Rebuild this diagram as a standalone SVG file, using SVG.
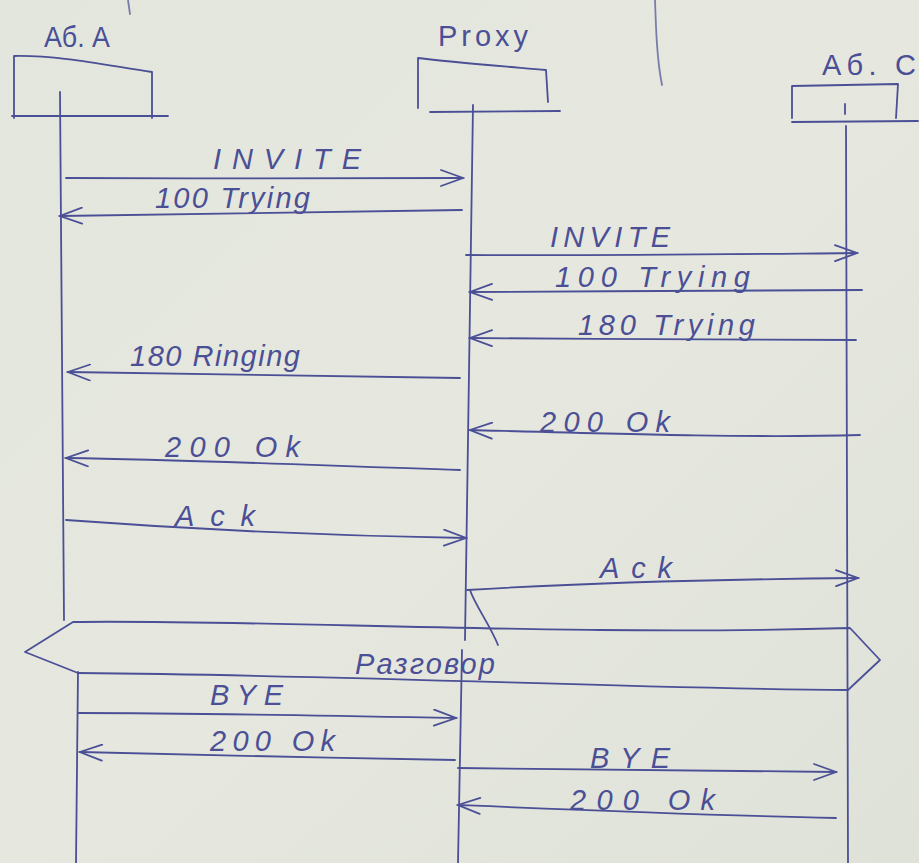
<svg xmlns="http://www.w3.org/2000/svg" width="919" height="863" viewBox="0 0 919 863">
<defs>
<style>
.ink{fill:none;stroke:#4b4f96;stroke-width:1.8;stroke-linecap:round;stroke-linejoin:round}
.lbl{font-family:"Liberation Sans","DejaVu Sans",sans-serif;font-style:italic;fill:#4b4f96;font-size:29px}
.hd{font-family:"Liberation Sans","DejaVu Sans",sans-serif;fill:#4b4f96;font-size:29px}
</style>
<marker id="ah" markerWidth="26" markerHeight="18" refX="24" refY="9" orient="auto" markerUnits="userSpaceOnUse">
<path d="M2,1 L24,9 L2,17" fill="none" stroke="#4b4f96" stroke-width="1.8" stroke-linecap="round"/>
</marker>
<linearGradient id="paper" x1="0" y1="0" x2="1" y2="1">
<stop offset="0" stop-color="#e3e6dc"/>
<stop offset="0.5" stop-color="#e6e8df"/>
<stop offset="1" stop-color="#dfe2d8"/>
</linearGradient>
</defs>
<rect width="919" height="863" fill="url(#paper)"/>
<path class="ink" d="M655,0 C656,30 657,60 662,85" stroke-opacity="0.7"/>
<path class="ink" d="M128,0 L130,14" stroke-opacity="0.7"/>

<g id="node-abA">
<text class="hd" x="44" y="47" textLength="66" lengthAdjust="spacingAndGlyphs">Аб. А</text>
<path class="ink" d="M14,118 L14,56 C60,55 110,66 152,72 L152,118"/>
<path class="ink" d="M12,116 L168,116"/>
<path class="ink" d="M60,92 L64,620"/>
<path class="ink" d="M78,672 L76,863"/>
</g>
<g id="node-proxy">
<text class="hd" x="438" y="46" textLength="90" lengthAdjust="spacing">Proxy</text>
<path class="ink" d="M418,108 L418,58 C450,62 500,66 546,70 L548,102"/>
<path class="ink" d="M430,112 L560,111"/>
<path class="ink" d="M473,105 L465,640"/>
<path class="ink" d="M462,650 L458,863"/>
<path class="ink" d="M470,590 C475,605 490,625 498,645"/>
</g>
<g id="node-abC">
<text class="hd" x="822" y="75" textLength="94" lengthAdjust="spacing">Аб. С</text>
<path class="ink" d="M792,118 L792,86 L898,84 L896,118"/>
<path class="ink" d="M792,122 L918,121"/>
<path class="ink" d="M845,104 L845,114"/>
<path class="ink" d="M846,126 L848,863"/>
</g>

<g id="conversation">
<path class="ink" d="M73,622 C200,620 400,628 600,630 C700,631 780,630 850,628 L880,660 L848,690 C600,688 400,676 78,673 L25,652 L73,622 Z"/>
<text class="lbl" x="355" y="674" textLength="140" lengthAdjust="spacing">Разговор</text>
</g>

<g id="connectors">
<path class="ink" d="M66,178 C200,179 350,178 463,178" marker-end="url(#ah)"/>
<text class="lbl" x="213" y="169" textLength="148" lengthAdjust="spacing">INVITE</text>
<path class="ink" d="M462,210 C300,212 180,214 60,216" marker-end="url(#ah)"/>
<text class="lbl" x="155" y="208" textLength="155" lengthAdjust="spacing">100 Trying</text>
<path class="ink" d="M466,255 C600,256 750,254 857,253" marker-end="url(#ah)"/>
<text class="lbl" x="550" y="247" textLength="120" lengthAdjust="spacing">INVITE</text>
<path class="ink" d="M862,290 C750,291 600,291 470,292" marker-end="url(#ah)"/>
<text class="lbl" x="555" y="287" textLength="195" lengthAdjust="spacing">100 Trying</text>
<path class="ink" d="M856,340 C750,340 600,339 470,338" marker-end="url(#ah)"/>
<text class="lbl" x="578" y="335" textLength="177" lengthAdjust="spacing">180 Trying</text>
<path class="ink" d="M460,378 C330,377 200,375 68,372" marker-end="url(#ah)"/>
<text class="lbl" x="130" y="366" textLength="170" lengthAdjust="spacing">180 Ringing</text>
<path class="ink" d="M860,435 C750,438 620,434 470,430" marker-end="url(#ah)"/>
<text class="lbl" x="540" y="432" textLength="130" lengthAdjust="spacing">200 Ok</text>
<path class="ink" d="M460,470 C330,466 200,460 66,458" marker-end="url(#ah)"/>
<text class="lbl" x="165" y="457" textLength="135" lengthAdjust="spacing">200 Ok</text>
<path class="ink" d="M66,520 C200,530 340,536 466,538" marker-end="url(#ah)"/>
<text class="lbl" x="175" y="526" textLength="80" lengthAdjust="spacing">Ack</text>
<path class="ink" d="M467,590 C600,582 750,579 858,578" marker-end="url(#ah)"/>
<text class="lbl" x="600" y="578" textLength="72" lengthAdjust="spacing">Ack</text>
<path class="ink" d="M78,713 C200,713 350,716 456,718" marker-end="url(#ah)"/>
<text class="lbl" x="210" y="705" textLength="73" lengthAdjust="spacing">BYE</text>
<path class="ink" d="M455,760 C330,758 200,755 80,752" marker-end="url(#ah)"/>
<text class="lbl" x="210" y="751" textLength="125" lengthAdjust="spacing">200 Ok</text>
<path class="ink" d="M458,768 C600,770 730,772 836,772" marker-end="url(#ah)"/>
<text class="lbl" x="590" y="768" textLength="80" lengthAdjust="spacing">BYE</text>
<path class="ink" d="M836,818 C700,815 580,810 458,805" marker-end="url(#ah)"/>
<text class="lbl" x="570" y="810" textLength="145" lengthAdjust="spacing">200 Ok</text>
</g>
</svg>
